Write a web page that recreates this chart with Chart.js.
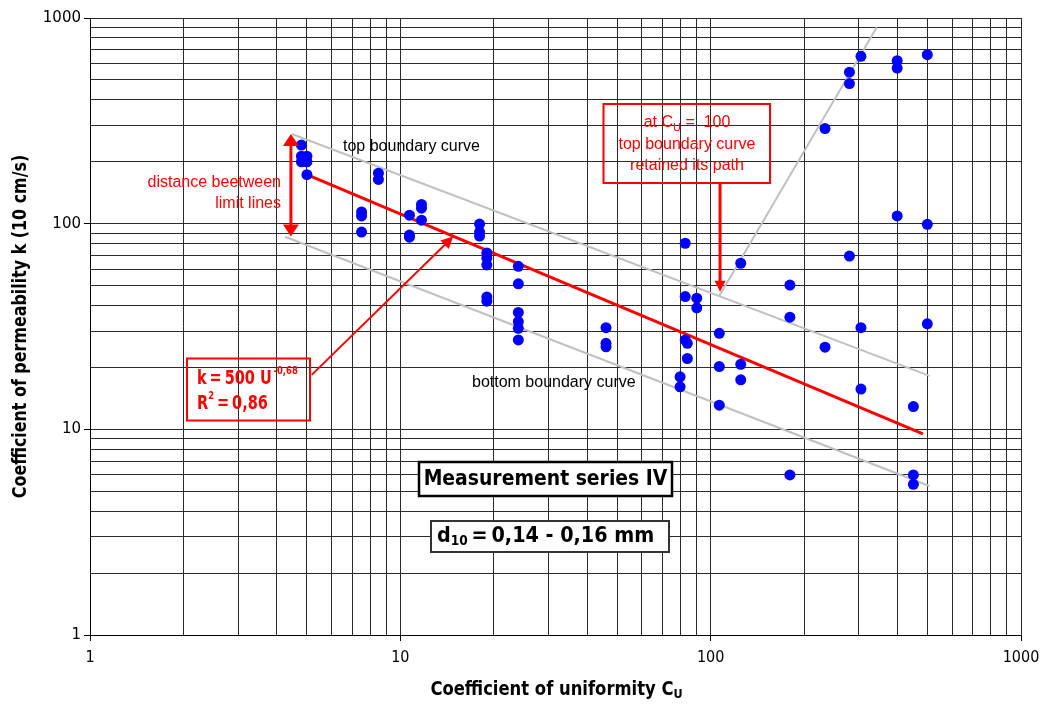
<!DOCTYPE html>
<html>
<head>
<meta charset="utf-8">
<script src="https://cdn.jsdelivr.net/npm/chart.js@4"></script>
<style>
  html, body { margin: 0; padding: 0; background: #fff; }
</style>
</head>
<body>
<canvas id="chart" width="1047" height="704"></canvas>
<script>
// measured points: coefficient of uniformity Cu and permeability k
const cuValues = [
  4.8, 4.8, 4.8, 5.0, 5.0, 5.0,
  7.5, 7.5, 7.5, 8.5, 8.5,
  10.7, 10.7, 10.7, 11.7, 11.7, 11.7,
  18, 18, 18, 19, 19, 19, 19, 19,
  24, 24, 24, 24, 24, 24,
  46, 46, 46,
  79.7, 79.7, 82.8, 82.8, 82.8, 84.1, 84.1, 90.2, 90.2,
  106.6, 106.6, 106.6, 125, 125, 125,
  180, 180, 180, 233.6, 233.6,
  280, 280, 280, 305, 305, 305,
  399, 399, 399, 450, 450, 450, 499, 499, 499
];
const kValues = [
  241, 213, 200, 213, 200, 173,
  114, 109, 91, 176, 164,
  110, 88, 86, 124, 119, 104,
  99.6, 91, 87, 72, 68, 63, 44, 42,
  62, 51, 37, 33.4, 31, 27.2,
  31.2, 26.2, 25.2,
  18.0, 16.1, 80.3, 44.2, 27.2, 26.2, 22.1, 43.4, 39.0,
  29.3, 20.2, 13.1, 64.2, 20.7, 17.4,
  50.3, 35.1, 6.0, 290, 25.1,
  545, 480, 69.6, 651, 31.2, 15.7,
  620, 571, 109, 12.9, 6.0, 5.4, 663, 99.3, 32.6
];

// regression line k = 500 U^-0,68 (as drawn)
const fitCu = [5, 483];
const fitK = [173, 9.5];
// boundary curves
const topCu = [4.47, 507];
const topK = [273, 18.2];
const bottomCu = [4.25, 507];
const bottomK = [86.4, 5.3];
const steepCu = [106.6, 343];
const steepK = [44.5, 901];

// log axis ticks
const majorTicks = [1, 10, 100, 1000];
const gridTicks = [];
[1, 10, 100].forEach(d => { for (let i = 1; i < 10; i++) gridTicks.push(i * d); });
gridTicks.push(1000);

const toXY = (xs, ys) => xs.map((v, i) => ({ x: v, y: ys[i] }));

const FONT = '"Liberation Sans", Arial, sans-serif';
const BOLD = '"DejaVu Sans Condensed", "DejaVu Sans", sans-serif';

// draw text made of pieces (sub/superscripts), sx squeezes it horizontally
function drawRich(ctx, parts, x, y, align, sx) {
  sx = sx || 1;
  let w = 0;
  parts.forEach(p => { ctx.font = p.font; w += ctx.measureText(p.t).width; });
  w *= sx;
  let cx = align === 'center' ? x - w / 2 : align === 'right' ? x - w : x;
  ctx.save();
  ctx.translate(cx, y);
  ctx.scale(sx, 1);
  ctx.textAlign = 'left';
  ctx.textBaseline = 'middle';
  let ox = 0;
  parts.forEach(p => {
    ctx.font = p.font;
    ctx.fillText(p.t, ox, p.dy || 0);
    ox += ctx.measureText(p.t).width;
  });
  ctx.restore();
}

function arrowHead(ctx, x1, y1, x2, y2, len, half) {
  const a = Math.atan2(y2 - y1, x2 - x1);
  ctx.beginPath();
  ctx.moveTo(x2, y2);
  ctx.lineTo(x2 - len * Math.cos(a) + half * Math.sin(a), y2 - len * Math.sin(a) - half * Math.cos(a));
  ctx.lineTo(x2 - len * Math.cos(a) - half * Math.sin(a), y2 - len * Math.sin(a) + half * Math.cos(a));
  ctx.closePath();
  ctx.fill();
}

const annotations = {
  id: 'annotations',
  afterDraw(chart) {
    const { ctx, scales: { x, y }, chartArea } = chart;
    const px = v => x.getPixelForValue(v);
    const py = v => y.getPixelForValue(v);
    ctx.save();

    // axis titles
    ctx.fillStyle = '#000';
    drawRich(ctx, [
      { t: 'Coefficient of uniformity C', font: 'bold 19px ' + BOLD },
      { t: 'U', font: 'bold 13px ' + BOLD, dy: 5 }
    ], (chartArea.left + chartArea.right) / 2 + 1, 690, 'center', 0.96);
    ctx.save();
    ctx.translate(21, (chartArea.top + chartArea.bottom) / 2);
    ctx.rotate(-Math.PI / 2);
    drawRich(ctx, [{ t: 'Coefficient of permeability k (10 cm/s)', font: 'bold 19px ' + BOLD }], 0, 0, 'center', 0.93);
    ctx.restore();

    // plain labels
    drawRich(ctx, [{ t: 'top boundary curve', font: '16px ' + FONT }], 343, 147, 'left');
    drawRich(ctx, [{ t: 'bottom boundary curve', font: '16px ' + FONT }], 472, 383, 'left');

    ctx.fillStyle = '#ff0000';
    drawRich(ctx, [{ t: 'distance beetween', font: '16px ' + FONT }], 281, 183, 'right');
    drawRich(ctx, [{ t: 'limit lines', font: '16px ' + FONT }], 281, 204, 'right');

    // red arrows
    ctx.strokeStyle = '#ff0000';
    ctx.fillStyle = '#ff0000';
    ctx.lineWidth = 3;
    const ax = px(4.44), ayTop = py(273), ayBot = py(86.7);
    ctx.beginPath(); ctx.moveTo(ax, ayTop + 10); ctx.lineTo(ax, ayBot - 10); ctx.stroke();
    arrowHead(ctx, ax, ayBot, ax, ayTop, 12, 8);
    arrowHead(ctx, ax, ayTop, ax, ayBot, 12, 8);

    ctx.lineWidth = 2;
    const b1x = px(5.18), b1y = py(18.4), t1x = px(14.8), t1y = py(86.7);
    ctx.beginPath(); ctx.moveTo(b1x, b1y); ctx.lineTo(t1x - 7, t1y + 7); ctx.stroke();
    arrowHead(ctx, b1x, b1y, t1x, t1y, 12, 6);

    ctx.lineWidth = 3;
    const a3x = px(107.2), a3y1 = py(158), a3y2 = py(46.7);
    ctx.beginPath(); ctx.moveTo(a3x, a3y1); ctx.lineTo(a3x, a3y2 - 8); ctx.stroke();
    arrowHead(ctx, a3x, a3y1, a3x, a3y2, 11, 5.5);

    // formula box
    ctx.lineWidth = 2;
    ctx.strokeRect(187, 358.5, 123, 62);
    drawRich(ctx, [
      { t: 'k\u2009=\u2009500 U', font: 'bold 19px ' + BOLD },
      { t: '\u2009-0,68', font: 'bold 11px ' + BOLD, dy: -8 }
    ], 197, 379, 'left', 0.85);
    drawRich(ctx, [
      { t: 'R', font: 'bold 19px ' + BOLD },
      { t: '2', font: 'bold 11px ' + BOLD, dy: -8 },
      { t: '\u2009=\u20090,86', font: 'bold 19px ' + BOLD }
    ], 197, 404, 'left', 0.85);

    // Cu = 100 box
    ctx.strokeRect(603.5, 104, 166.5, 79);
    drawRich(ctx, [
      { t: 'at C', font: '16px ' + FONT },
      { t: 'U', font: '11px ' + FONT, dy: 5 },
      { t: ' =  100', font: '16px ' + FONT }
    ], 687, 123, 'center');
    drawRich(ctx, [{ t: 'top boundary curve', font: '16px ' + FONT }], 687, 145, 'center');
    drawRich(ctx, [{ t: 'retained its path', font: '16px ' + FONT }], 687, 166, 'center');

    // series boxes
    ctx.fillStyle = '#fff';
    ctx.fillRect(419, 462, 253, 34);
    ctx.strokeStyle = '#000';
    ctx.lineWidth = 2.5;
    ctx.strokeRect(419, 462, 253, 34);
    ctx.fillStyle = '#000';
    drawRich(ctx, [{ t: 'Measurement series IV', font: 'bold 22px ' + BOLD }], 545.5, 479, 'center', 0.95);

    ctx.fillStyle = '#fff';
    ctx.fillRect(431, 521, 238, 31);
    ctx.strokeStyle = '#333';
    ctx.lineWidth = 2;
    ctx.strokeRect(431, 521, 238, 31);
    ctx.fillStyle = '#000';
    drawRich(ctx, [
      { t: 'd', font: 'bold 22px ' + BOLD },
      { t: '10', font: 'bold 14px ' + BOLD, dy: 5 },
      { t: '\u2009=\u20090,14 - 0,16 mm', font: 'bold 22px ' + BOLD }
    ], 437, 536, 'left', 0.97);

    ctx.restore();
  }
};

const ctx = document.getElementById('chart').getContext('2d');
new Chart(ctx, {
  type: 'scatter',
  data: {
    datasets: [
      {
        label: 'Measurements',
        data: toXY(cuValues, kValues),
        backgroundColor: '#0000ff',
        borderWidth: 0,
        pointRadius: 5.5,
        order: 0
      },
      {
        label: 'k = 500 U^-0,68',
        type: 'line',
        data: toXY(fitCu, fitK),
        borderColor: '#ff0000',
        borderWidth: 3,
        pointRadius: 0,
        order: 1
      },
      {
        label: 'top boundary curve',
        type: 'line',
        data: toXY(topCu, topK),
        borderColor: '#c0c0c0',
        borderWidth: 2,
        pointRadius: 0,
        order: 2
      },
      {
        label: 'bottom boundary curve',
        type: 'line',
        data: toXY(bottomCu, bottomK),
        borderColor: '#c0c0c0',
        borderWidth: 2,
        pointRadius: 0,
        order: 2
      },
      {
        label: 'top boundary above Cu 100',
        type: 'line',
        data: toXY(steepCu, steepK),
        borderColor: '#c0c0c0',
        borderWidth: 2,
        pointRadius: 0,
        order: 2
      }
    ]
  },
  options: {
    responsive: false,
    animation: false,
    layout: { padding: { top: 18, right: 26, left: 0, bottom: 0 } },
    plugins: {
      legend: { display: false },
      tooltip: { enabled: false }
    },
    scales: {
      x: {
        type: 'logarithmic',
        min: 1,
        max: 1000,
        afterFit: s => { s.height = 69; },
        afterBuildTicks: s => { s.ticks = gridTicks.map(v => ({ value: v })); },
        ticks: {
          autoSkip: false,
          maxRotation: 0,
          padding: 7,
          color: '#000',
          font: { family: BOLD, size: 16 },
          callback: v => majorTicks.includes(v) ? String(v) : ''
        },
        grid: {
          color: '#2a2a2a',
          lineWidth: 1,
          tickLength: 6,
          tickColor: c => majorTicks.includes(c.tick && c.tick.value) ? '#000' : 'rgba(0,0,0,0)'
        },
        border: { color: '#000', width: 1 }
      },
      y: {
        type: 'logarithmic',
        min: 1,
        max: 1000,
        afterFit: s => { s.width = 90; },
        afterBuildTicks: s => { s.ticks = gridTicks.map(v => ({ value: v })); },
        ticks: {
          autoSkip: false,
          padding: 3,
          color: '#000',
          font: { family: '"DejaVu Sans", sans-serif', size: 15 },
          callback: v => majorTicks.includes(v) ? String(v) : ''
        },
        grid: {
          color: '#2a2a2a',
          lineWidth: 1,
          tickLength: 6,
          tickColor: c => majorTicks.includes(c.tick && c.tick.value) ? '#000' : 'rgba(0,0,0,0)'
        },
        border: { color: '#000', width: 1 }
      }
    }
  },
  plugins: [annotations]
});
</script>
</body>
</html>
